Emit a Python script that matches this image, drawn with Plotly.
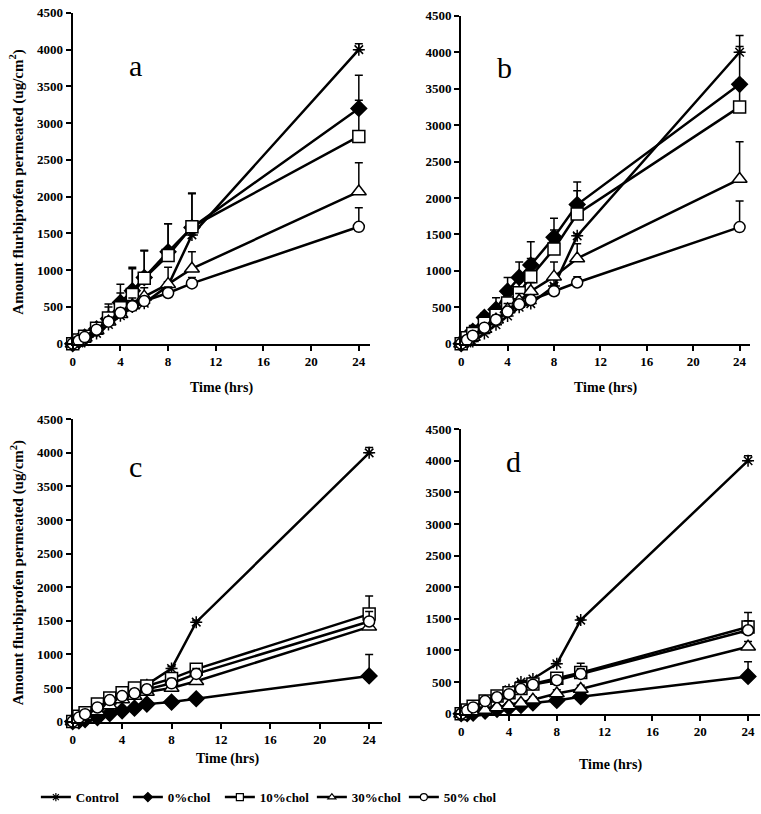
import plotly.graph_objects as go

W, H = 761, 814

time_hrs = [0, 0.5, 1, 2, 3, 4, 5, 6, 8, 10, 24]
x_ticks = [0, 4, 8, 12, 16, 20, 24]
y_ticks = [0, 500, 1000, 1500, 2000, 2500, 3000, 3500, 4000, 4500]

series_names = ["Control", "0%chol", "10%chol", "30%chol", "50% chol"]

control = [0, 10, 30, 140, 260, 380, 500, 550, 790, 1480, 4000]
control_err = [0, 5, 10, 10, 20, 20, 20, 20, 30, 30, 80]

# panel a
a_chol0 = [0, 40, 90, 200, 340, 560, 720, 900, 1250, 1580, 3200]
a_chol0_err = [0, 20, 40, 50, 200, 250, 300, 360, 380, 460, 450]
a_chol10 = [0, 50, 100, 210, 350, 490, 670, 890, 1200, 1590, 2820]
a_chol10_err = [0, 20, 30, 50, 150, 200, 370, 380, 430, 460, 490]
a_chol30 = [0, 30, 80, 180, 300, 400, 520, 640, 810, 1020, 2070]
a_chol30_err = [0, 10, 20, 40, 60, 80, 100, 120, 230, 230, 390]
a_chol50 = [0, 40, 90, 190, 300, 420, 510, 580, 690, 820, 1590]
a_chol50_err = [0, 10, 20, 30, 40, 60, 60, 60, 80, 80, 260]

# panel b
b_chol0 = [0, 90, 170, 360, 470, 720, 910, 1080, 1460, 1910, 3560]
b_chol0_err = [0, 60, 80, 60, 160, 190, 210, 320, 260, 310, 60]
b_chol10 = [0, 80, 140, 280, 390, 560, 700, 920, 1300, 1780, 3250]
b_chol10_err = [0, 40, 60, 60, 100, 150, 200, 250, 260, 320, 980]
b_chol30 = [0, 40, 90, 200, 330, 470, 590, 720, 920, 1170, 2260]
b_chol30_err = [0, 20, 30, 40, 60, 80, 100, 120, 200, 200, 510]
b_chol50 = [0, 50, 110, 220, 330, 440, 540, 600, 720, 840, 1600]
b_chol50_err = [0, 20, 30, 40, 50, 60, 60, 60, 80, 80, 360]

# panel c
c_chol0 = [0, 10, 30, 60, 120, 160, 200, 260, 290, 340, 680]
c_chol0_err = [0, 5, 10, 10, 20, 20, 20, 30, 40, 40, 320]
c_chol10 = [0, 80, 130, 260, 350, 430, 500, 530, 640, 780, 1600]
c_chol10_err = [0, 20, 30, 40, 50, 60, 60, 60, 80, 80, 270]
c_chol30 = [0, 40, 80, 150, 240, 330, 380, 440, 500, 600, 1410]
c_chol30_err = [0, 10, 20, 30, 40, 50, 60, 60, 70, 80, 80]
c_chol50 = [0, 60, 110, 210, 320, 380, 420, 480, 570, 710, 1490]
c_chol50_err = [0, 10, 20, 30, 40, 50, 60, 60, 70, 80, 150]

# panel d
d_chol0 = [0, 0, 10, 40, 70, 100, 130, 170, 210, 270, 590]
d_chol0_err = [0, 5, 5, 10, 10, 20, 20, 20, 30, 40, 230]
d_chol10 = [0, 60, 120, 200, 280, 330, 400, 470, 560, 650, 1370]
d_chol10_err = [0, 10, 20, 30, 40, 50, 60, 60, 80, 150, 230]
d_chol30 = [0, 10, 20, 60, 100, 130, 170, 220, 320, 390, 1060]
d_chol30_err = [0, 5, 10, 20, 30, 40, 40, 50, 60, 60, 80]
d_chol50 = [0, 50, 100, 200, 260, 310, 390, 460, 530, 630, 1320]
d_chol50_err = [0, 10, 20, 30, 40, 50, 60, 60, 70, 80, 150]

panels = [
    ("a", [control, a_chol0, a_chol10, a_chol30, a_chol50],
     [control_err, a_chol0_err, a_chol10_err, a_chol30_err, a_chol50_err]),
    ("b", [control, b_chol0, b_chol10, b_chol30, b_chol50],
     [control_err, b_chol0_err, b_chol10_err, b_chol30_err, b_chol50_err]),
    ("c", [control, c_chol0, c_chol10, c_chol30, c_chol50],
     [control_err, c_chol0_err, c_chol10_err, c_chol30_err, c_chol50_err]),
    ("d", [control, d_chol0, d_chol10, d_chol30, d_chol50],
     [control_err, d_chol0_err, d_chol10_err, d_chol30_err, d_chol50_err]),
]

# pixel boxes for each panel: (left, right, top, bottom)
boxes = [(70, 368, 6, 343), (460, 750, 9, 343), (70, 380, 420, 728), (460, 760, 430, 720)]
x_max = [24.9, 24.9, 25.0, 25.0]
letter_pos = [(133, 60), (503, 62), (133, 468), (513, 463)]
time_title_y = [388, 388, 766, 772]

marker_symbols = ["asterisk-open", "diamond", "square", "triangle-up", "circle"]
marker_fill = ["black", "black", "white", "white", "white"]
marker_sizes = [10, 12, 12, 13, 11]
legend_sizes = [7, 7, 7, 7, 7]

serif = "Liberation Serif, Times New Roman, serif"
tick_font = dict(family=serif, size=13, color="black")
fig = go.Figure()
layout = {}
annotations = []

for i, (label, ys, errs) in enumerate(panels):
    sfx = "" if i == 0 else str(i + 1)
    xa, ya = "x" + sfx, "y" + sfx
    for k in range(5):
        fig.add_trace(go.Scatter(
            x=time_hrs, y=ys[k], mode="lines+markers", name=series_names[k],
            xaxis=xa, yaxis=ya, showlegend=False,
            line=dict(color="black", width=2.5),
            marker=dict(symbol=marker_symbols[k], size=marker_sizes[k], color=marker_fill[k],
                        line=dict(color="black", width=1.5)),
            cliponaxis=False,
            error_y=dict(type="data", array=errs[k], arrayminus=[0] * len(errs[k]),
                         symmetric=False, color="black", thickness=1.5, width=4),
        ))
    l, r, t, b = boxes[i]
    layout["xaxis" + sfx] = dict(
        domain=[l / W, r / W], anchor=ya, range=[0, x_max[i]],
        tickvals=x_ticks, ticktext=["<b>%d</b>" % v for v in x_ticks],
        ticks="outside", ticklen=5, tickwidth=1.5, tickcolor="black",
        showline=True, linecolor="black", linewidth=2, showgrid=False, zeroline=False,
        tickfont=tick_font,
    )
    layout["yaxis" + sfx] = dict(
        domain=[1 - b / H, 1 - t / H], anchor=xa, range=[0, 4500],
        tickvals=y_ticks, ticktext=["<b>%d</b>" % v for v in y_ticks],
        ticks="outside", ticklen=5, tickwidth=1.5, tickcolor="black",
        showline=True, linecolor="black", linewidth=2, showgrid=False, zeroline=False,
        tickfont=tick_font,
    )
    lx, ly = letter_pos[i]
    annotations.append(dict(text=label, xref="paper", yref="paper",
                            x=lx / W, y=1 - ly / H, xanchor="center", yanchor="middle",
                            showarrow=False,
                            font=dict(family=serif, size=30, color="black")))
    annotations.append(dict(text="<b>Time (hrs)</b>", xref="paper", yref="paper",
                            x=((l + r) / 2) / W, y=1 - time_title_y[i] / H,
                            xanchor="center", yanchor="middle", showarrow=False,
                            font=dict(family=serif, size=14, color="black")))

# legend entries (same styles, small legend-sized markers)
for k in range(5):
    fig.add_trace(go.Scatter(
        x=[None], y=[None], mode="lines+markers", name=series_names[k],
        xaxis="x", yaxis="y", showlegend=True,
        line=dict(color="black", width=2.5),
        marker=dict(symbol=marker_symbols[k], size=legend_sizes[k], color=marker_fill[k],
                    line=dict(color="black", width=1.2)),
    ))

ytitle = "<b>Amount flurbiprofen permeated (ug/cm<sup>2</sup>)</b>"
for cy in (178, 576):
    annotations.append(dict(text=ytitle, xref="paper", yref="paper", x=14 / W, y=1 - cy / H,
                            xanchor="center", yanchor="middle",
                            textangle=-90, showarrow=False,
                            font=dict(family=serif, size=15, color="black")))

fig.update_layout(
    **layout,
    width=W, height=H, margin=dict(l=0, r=0, t=0, b=0),
    paper_bgcolor="white", plot_bgcolor="white",
    annotations=annotations,
    showlegend=True,
    legend=dict(orientation="h", x=33 / W, y=1 - 805 / H, xanchor="left", yanchor="middle",
                font=dict(family=serif, size=13, color="black", weight="bold"),
                entrywidth=47, entrywidthmode="pixels",
                itemwidth=30, bgcolor="rgba(0,0,0,0)"),
)

fig.write_html("out.html", config={"displayModeBar": False},
               post_script="document.body.style.margin='0';")
